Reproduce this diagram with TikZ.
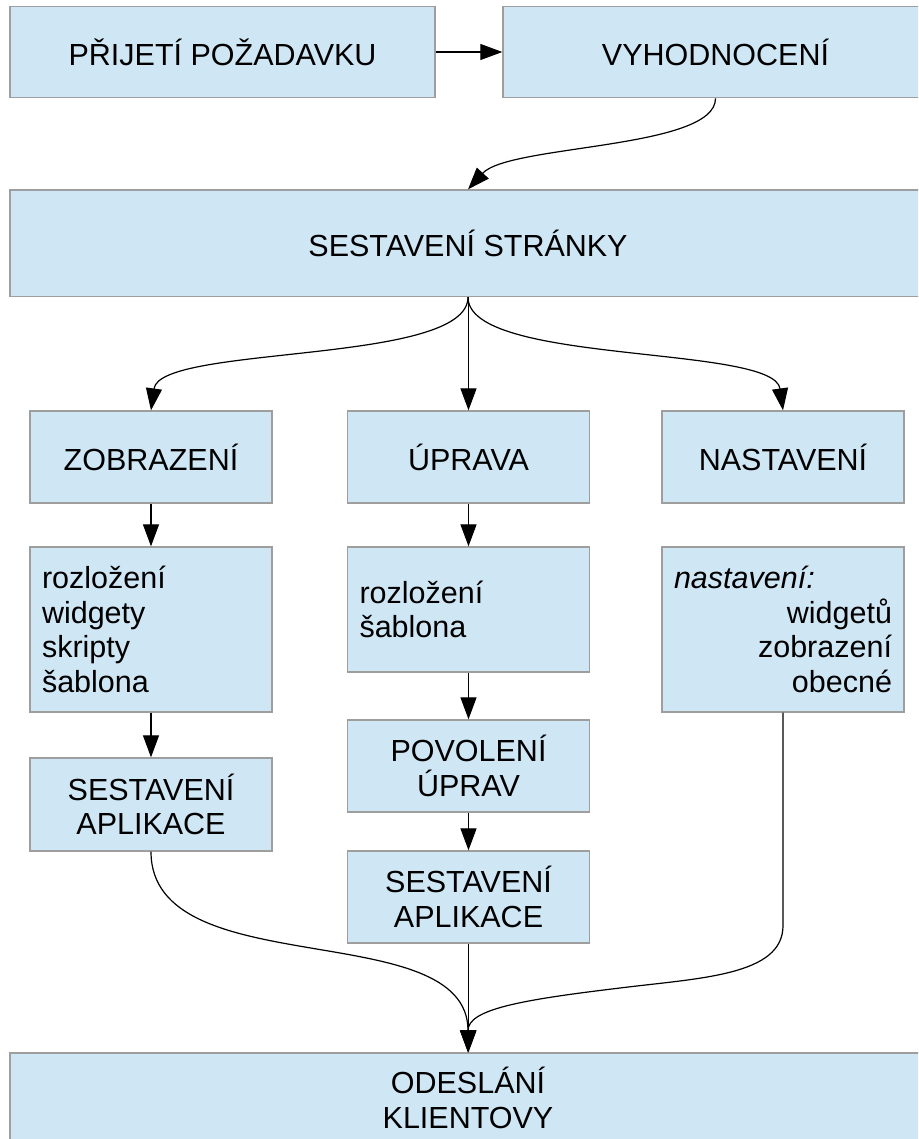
\documentclass[tikz,border=0pt]{standalone}
\usepackage{fontspec}
\setmainfont{Liberation Sans}
\usetikzlibrary{arrows.meta}
\definecolor{boxfill}{RGB}{207,231,245}
\definecolor{boxline}{RGB}{158,158,158}
\begin{document}
\begin{tikzpicture}[x=1pt,y=-1pt,
  box/.style={draw=boxline, line width=1.3pt, fill=boxfill, inner sep=0pt,
    align=center, font=\fontsize{30.5}{34.5}\selectfont},
  listbox/.style={box, align=left, inner xsep=12pt, text width=218pt},
  flow/.style={draw=black, line width=1.2pt, -{Triangle[length=22pt,width=16pt]}},
]
\useasboundingbox (0,0) rectangle (918,1139);
\clip (0,0) rectangle (918,1139);

% request handling
\node[box, minimum width=425pt, minimum height=91.5pt] (req) at (222.5,52) {PŘIJETÍ POŽADAVKU};
\node[box, minimum width=425pt, minimum height=91.5pt] (eval) at (715.5,52) {VYHODNOCENÍ};
\node[box, minimum width=916pt, minimum height=106.5pt] (page) at (468,243.25) {SESTAVENÍ STRÁNKY};

% three modes
\node[box, minimum width=242pt, minimum height=92pt] (view) at (151,457) {ZOBRAZENÍ};
\node[box, minimum width=242pt, minimum height=92pt] (edit) at (468.5,457) {ÚPRAVA};
\node[box, minimum width=242pt, minimum height=92pt] (setg) at (783,457) {NASTAVENÍ};

% details of each mode
\node[listbox, minimum width=242pt, minimum height=165pt] (viewd) at (151,629.5)
  {rozložení\\widgety\\skripty\\šablona};
\node[listbox, minimum width=242pt, minimum height=125pt] (editd) at (468.5,609.5)
  {rozložení\\šablona};
\node[listbox, minimum width=242pt, minimum height=165pt] (setgd) at (783,629.5)
  {\textit{nastavení:}\\\hspace*{\fill}widgetů\\\hspace*{\fill}zobrazení\\\hspace*{\fill}obecné};

% application assembly
\node[box, minimum width=242pt, minimum height=93pt] (viewapp) at (151,804.5) {SESTAVENÍ\\APLIKACE};
\node[box, minimum width=242pt, minimum height=92pt] (perm) at (468.5,766) {POVOLENÍ\\ÚPRAV};
\node[box, minimum width=242pt, minimum height=92pt] (editapp) at (468.5,897) {SESTAVENÍ\\APLIKACE};

% response
\node[box, minimum width=916pt, minimum height=90pt] (send) at (468,1098) {ODESLÁNÍ\\KLIENTOVY};

\coordinate (bend) at (620,988);

% connectors
\draw[flow] (req) -- (eval);
\draw[flow] (eval.south) .. controls +(0,51) and +(41,-45) .. (page.north);
\draw[flow] (page.south) .. controls +(0,68) and +(9,-66) .. (view.north);
\draw[flow] (edit.north |- page.south) -- (edit.north);
\draw[flow] (page.south) .. controls +(0,68) and +(-9,-66) .. (setg.north);
\draw[flow] (view.south) -- (viewd.north);
\draw[flow] (viewd.south) -- (viewapp.north);
\draw[flow] (edit.south) -- (editd.north);
\draw[flow] (editd.south) -- (perm.north);
\draw[flow] (perm.south) -- (editapp.north);
\draw[flow] (viewapp.south) .. controls +(0,134) and +(0,-138) .. (send.north);
\draw[flow] (editapp.south) -- (editapp.south |- send.north);
\draw[flow] (setgd.south) -- ++(0,213) .. controls +(0,50) and (700,978) .. (bend)
  .. controls (520,1000) and +(0,-43) .. (send.north);
\end{tikzpicture}
\end{document}
